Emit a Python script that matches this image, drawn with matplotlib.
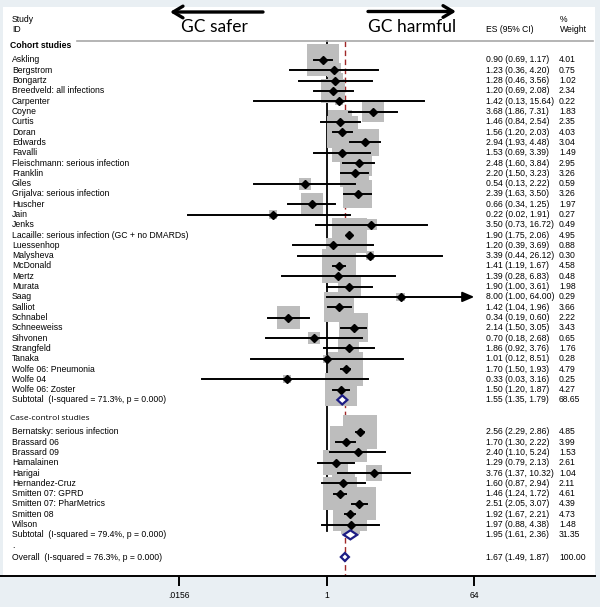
import matplotlib
matplotlib.use('Agg')
import matplotlib.pyplot as plt
import numpy as np
from matplotlib.patches import Polygon, Rectangle
from matplotlib.transforms import blended_transform_factory

# ---- data ----
cohort_names = ['Askling', 'Bergstrom', 'Bongartz', 'Breedveld: all infections', 'Carpenter',
                'Coyne', 'Curtis', 'Doran', 'Edwards', 'Favalli',
                'Fleischmann: serious infection', 'Franklin', 'Giles', 'Grijalva: serious infection',
                'Huscher', 'Jain', 'Jenks', 'Lacaille: serious infection (GC + no DMARDs)',
                'Luessenhop', 'Malysheva', 'McDonald', 'Mertz', 'Murata', 'Saag', 'Salliot',
                'Schnabel', 'Schneeweiss', 'Sihvonen', 'Strangfeld', 'Tanaka',
                'Wolfe 06: Pneumonia', 'Wolfe 04', 'Wolfe 06: Zoster']
cohort_es = [0.90, 1.23, 1.28, 1.20, 1.42, 3.68, 1.46, 1.56, 2.94, 1.53,
             2.48, 2.20, 0.54, 2.39, 0.66, 0.22, 3.50, 1.90, 1.20, 3.39,
             1.41, 1.39, 1.90, 8.00, 1.42, 0.34, 2.14, 0.70, 1.86, 1.01,
             1.70, 0.33, 1.50]
cohort_lo = [0.69, 0.36, 0.46, 0.69, 0.13, 1.86, 0.84, 1.20, 1.93, 0.69,
             1.60, 1.50, 0.13, 1.63, 0.34, 0.02, 0.73, 1.75, 0.39, 0.44,
             1.19, 0.28, 1.00, 1.00, 1.04, 0.19, 1.50, 0.18, 0.92, 0.12,
             1.50, 0.03, 1.20]
cohort_hi = [1.17, 4.20, 3.56, 2.08, 15.64, 7.31, 2.54, 2.03, 4.48, 3.39,
             3.84, 3.23, 2.22, 3.50, 1.25, 1.91, 16.72, 2.06, 3.69, 26.12,
             1.67, 6.83, 3.61, 64.00, 1.96, 0.60, 3.05, 2.68, 3.76, 8.51,
             1.93, 3.16, 1.87]
cohort_w = [4.01, 0.75, 1.02, 2.34, 0.22, 1.83, 2.35, 4.03, 3.04, 1.49,
            2.95, 3.26, 0.59, 3.26, 1.97, 0.27, 0.49, 4.95, 0.88, 0.30,
            4.58, 0.48, 1.98, 0.29, 3.66, 2.22, 3.43, 0.65, 1.76, 0.28,
            4.79, 0.25, 4.27]

case_names = ['Bernatsky: serious infection', 'Brassard 06', 'Brassard 09', 'Hamalainen',
              'Harigai', 'Hernandez-Cruz', 'Smitten 07: GPRD', 'Smitten 07: PharMetrics',
              'Smitten 08', 'Wilson']
case_es = [2.56, 1.70, 2.40, 1.29, 3.76, 1.60, 1.46, 2.51, 1.92, 1.97]
case_lo = [2.29, 1.30, 1.10, 0.79, 1.37, 0.87, 1.24, 2.05, 1.67, 0.88]
case_hi = [2.86, 2.22, 5.24, 2.13, 10.32, 2.94, 1.72, 3.07, 2.21, 4.38]
case_w = [4.85, 3.99, 1.53, 2.61, 1.04, 2.11, 4.61, 4.39, 4.73, 1.48]

# pooled estimates: es, lo, hi, weight
cohort_sub = (1.55, 1.35, 1.79, 68.65)
case_sub = (1.95, 1.61, 2.36, 31.35)
overall = (1.67, 1.49, 1.87, 100.00)
cohort_sub_label = 'Subtotal  (I-squared = 71.3%, p = 0.000)'
case_sub_label = 'Subtotal  (I-squared = 79.4%, p = 0.000)'
overall_label = 'Overall  (I-squared = 76.3%, p = 0.000)'

tick_vals = [2.0**-6, 1, 64]
tick_labels = ['.0156', '1', '64']

# ---- layout (pixels of a 600x607 picture) ----
W, H = 600, 607
PX_ONE = 326.7      # pixel of x = 1
PX_PER_LOG2 = 24.6
ROW_PX = 10.3
ROW0_PX = 60.0      # pixel of first study row
TOP_PX, BOT_PX, RIGHT_PX = 7, 576, 595

fig = plt.figure(figsize=(W / 100, H / 100), dpi=100, facecolor='#e9eff3')
fig.patches.append(Rectangle((3 / W, 1 - BOT_PX / H), (RIGHT_PX - 3) / W, (BOT_PX - TOP_PX) / H,
                             transform=fig.transFigure, facecolor='white', edgecolor='none', zorder=-5))

ax = fig.add_axes([0, 1 - BOT_PX / H, RIGHT_PX / W, (BOT_PX - TOP_PX) / H])
ax.patch.set_alpha(0)
ax.set_xscale('log', base=2)
ax.set_xlim(2 ** (-PX_ONE / PX_PER_LOG2), 2 ** ((RIGHT_PX - PX_ONE) / PX_PER_LOG2))
ax.set_ylim((BOT_PX - ROW0_PX) / ROW_PX, (TOP_PX - ROW0_PX) / ROW_PX)


def row(px):
    return (px - ROW0_PX) / ROW_PX


tx = blended_transform_factory(ax.transAxes, ax.transData)


def xf(px):
    return px / RIGHT_PX


cohort_y = np.arange(len(cohort_names), dtype=float)
cohort_sub_y = len(cohort_names)
case_y = 36.1 + np.arange(len(case_names))
case_sub_y = case_y[-1] + 1
overall_y = row(557)

xmax_ci = 64.0
font = 'Liberation Sans'
fs = 6.2

# reference lines
ax.plot([1, 1], [row(41), row(531)], color='black', lw=1.3, zorder=1)
ax.plot([overall[0]] * 2, [row(41), row(BOT_PX)], color='#a02828', lw=1.0,
        dashes=(4, 2.5), zorder=1)
ax.plot([xf(77), xf(593)], [row(41)] * 2, transform=tx, color='#a8a8a8', lw=1.2, zorder=1)

# weight boxes
all_es = cohort_es + case_es
all_w = cohort_w + case_w
all_y = list(cohort_y) + list(case_y)
ax.scatter(all_es, all_y, s=np.array(all_w) * 128, marker='s', color='#bdbdbd',
           linewidths=0, zorder=2)

# confidence intervals and point estimates
for es, lo, hi, y in zip(cohort_es + case_es, cohort_lo + case_lo, cohort_hi + case_hi, all_y):
    if hi >= xmax_ci:
        ax.plot([lo, xmax_ci * 0.8], [y, y], color='black', lw=1.4, zorder=3)
        ax.annotate('', xy=(xmax_ci, y), xytext=(xmax_ci * 0.7, y),
                    arrowprops=dict(arrowstyle='-|>,head_length=0.7,head_width=0.3',
                                    color='black', lw=1.4, shrinkA=0, shrinkB=0), zorder=3)
    else:
        ax.plot([lo, hi], [y, y], color='black', lw=1.4, zorder=3)
ax.plot(all_es, all_y, 'D', color='black', ms=3.6, zorder=4)

# pooled diamonds
for (es, lo, hi, w), y, h in [(cohort_sub, cohort_sub_y, 0.44), (case_sub, case_sub_y, 0.44),
                              (overall, overall_y, 0.39)]:
    ax.add_patch(Polygon([(lo, y), (es, y - h), (hi, y), (es, y + h)], closed=True,
                         facecolor='white', edgecolor='#1c1c84', lw=1.6, zorder=5))

# ---- text columns ----
def txt(px, y, s, **kw):
    kw.setdefault('family', font)
    kw.setdefault('fontsize', fs)
    ax.text(xf(px), y, s, transform=tx, va='center', ha='left', **kw)


txt(12, row(19), 'Study')
txt(12, row(29), 'ID')
txt(485.7, row(29), 'ES (95% CI)')
txt(560, row(19), '%')
txt(560, row(29), 'Weight')
txt(10, row(45), 'Cohort studies', fontweight='bold')
txt(10, row(418), 'Case-control studies', family='Open Sans', fontsize=6)


def ci_text(es, lo, hi):
    return '%.2f (%.2f, %.2f)' % (es, lo, hi)


for names, es_l, lo_l, hi_l, w_l, ys in [(cohort_names, cohort_es, cohort_lo, cohort_hi, cohort_w, cohort_y),
                                         (case_names, case_es, case_lo, case_hi, case_w, case_y)]:
    for n, es, lo, hi, w, y in zip(names, es_l, lo_l, hi_l, w_l, ys):
        txt(12, y, n)
        txt(485.7, y, ci_text(es, lo, hi))
        txt(559, y, '%.2f' % w)

for label, est, y in [(cohort_sub_label, cohort_sub, cohort_sub_y),
                      (case_sub_label, case_sub, case_sub_y),
                      (overall_label, overall, overall_y)]:
    txt(12, y, label)
    txt(485.7, y, ci_text(*est[:3]))
    txt(559, y, '%.2f' % est[3])
txt(12, row(546), '.')

# direction arrows
fig.text(214 / W, 1 - 27.5 / H, 'GC safer', family='Lato', fontsize=12.5, ha='center', va='center')
fig.text(412 / W, 1 - 27.5 / H, 'GC harmful', family='Lato', fontsize=12.5, ha='center', va='center')
arrow = dict(arrowstyle='->,head_length=0.5,head_width=0.3', color='black', lw=2.4,
             shrinkA=0, shrinkB=0, mutation_scale=14)
ax.annotate('', xy=(170 / W, 1 - 12 / H), xytext=(263 / W, 1 - 12 / H),
            xycoords='figure fraction', textcoords='figure fraction', arrowprops=arrow,
            annotation_clip=False)
ax.annotate('', xy=(456 / W, 1 - 11.5 / H), xytext=(368 / W, 1 - 11.5 / H),
            xycoords='figure fraction', textcoords='figure fraction', arrowprops=arrow,
            annotation_clip=False)

# ---- axis ----
for side in ['top', 'left', 'right']:
    ax.spines[side].set_visible(False)
ax.spines['bottom'].set_linewidth(1.4)
ax.set_yticks([])
ax.set_xticks(tick_vals)
ax.set_xticklabels(tick_labels, family=font, fontsize=fs)
ax.xaxis.set_minor_locator(matplotlib.ticker.NullLocator())
ax.tick_params(axis='x', length=7, width=1.4, pad=4)

fig.savefig('out.png', dpi=100, facecolor=fig.get_facecolor())
